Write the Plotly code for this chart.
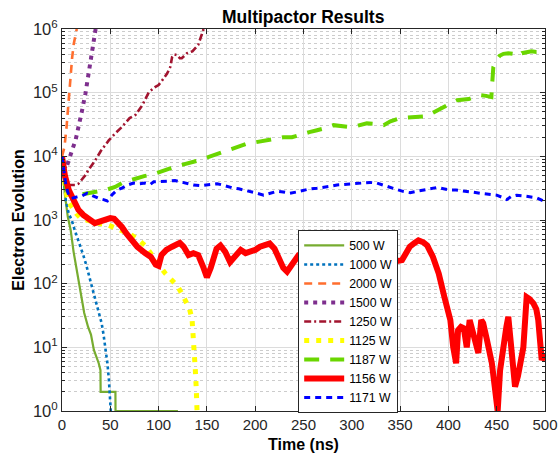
import numpy as np
import plotly.graph_objects as go

# ---------------- data (time in ns, electron counts as log10 exponents) ----------------
t_500 = [0, 3, 6, 9, 12, 16, 19, 23, 27, 30, 33, 36, 38, 39.8, 40, 55.3, 55.4, 120]
log_500 = [4.0, 3.4, 3.05, 2.84, 2.5, 2.15, 1.85, 1.54, 1.32, 1.2, 0.96, 0.85, 0.75, 0.64, 0.301, 0.301, 0, 0]

t_1000 = [0, 2, 4, 7, 10, 13, 16, 19, 22, 25, 28, 31, 34, 37, 39, 41, 43, 45, 47, 48.5, 49.5, 50.5]
log_1000 = [4.0, 3.6, 3.3, 3.1, 3.0, 2.85, 2.72, 2.6, 2.45, 2.3, 2.1, 1.95, 1.78, 1.6, 1.5, 1.38, 1.2, 1.0, 0.75, 0.5, 0.25, 0.0]

t_2000 = [0, 2.6, 4.7, 7, 8.8, 10.5, 12.2, 14, 15.3]
log_2000 = [4.0, 4.15, 4.46, 4.88, 5.3, 5.55, 5.77, 5.9, 6.0]

t_1500 = [0, 2, 4, 6, 8.8, 11, 14, 17.4, 20.9, 24.3, 27.7, 31, 33, 34.8]
log_1500 = [4.0, 3.85, 3.8, 3.88, 3.99, 4.12, 4.25, 4.46, 4.73, 4.99, 5.3, 5.62, 5.82, 6.0]

t_1250 = [0, 3, 6, 10, 14, 17, 20, 24, 28, 34.6, 40, 48.4, 55, 62, 70, 76, 83, 90, 96.7,
          100, 104, 108.8, 112, 114, 116, 119, 122, 124, 129.5, 135, 141, 143, 146.6]
log_1250 = [4.0, 3.6, 3.55, 3.55, 3.55, 3.57, 3.62, 3.7, 3.8, 3.94, 4.08, 4.25, 4.36, 4.46, 4.6, 4.65, 4.8, 5.01, 5.09,
            5.12, 5.2, 5.3, 5.4, 5.56, 5.6, 5.59, 5.54, 5.54, 5.62, 5.65, 5.75, 5.85, 6.0]

t_1125 = [0, 3, 6, 10, 15, 20, 30, 40, 48, 55, 62, 70, 78, 86, 93, 100, 107, 114, 120, 125,
          129.5, 132, 134.6, 136, 137, 138, 139, 139.8]
log_1125 = [4.0, 3.55, 3.3, 3.2, 3.1, 3.02, 2.97, 2.94, 2.92, 2.88, 2.84, 2.78, 2.7, 2.6, 2.45, 2.3, 2.16, 2.05, 1.95, 1.82,
            1.7, 1.6, 1.45, 1.2, 0.95, 0.65, 0.35, 0.0]

t_1187 = [0, 2, 4, 8, 14, 20, 27.7, 35, 45, 55, 62, 70, 76, 85, 95, 103, 112, 120, 131, 140, 152, 160, 171, 180,
          191.5, 200, 210, 220, 229, 238, 248, 256, 264, 272, 281, 290, 298, 306, 315.6, 324, 333, 340, 350, 357,
          364, 370, 378, 386, 395, 402, 409, 415, 421, 427, 433, 439, 444.5, 445, 446.5, 450, 453, 457, 462, 467,
          472, 476, 481, 486, 491, 496, 500]
log_1187 = [4.0, 3.75, 3.5, 3.42, 3.38, 3.4, 3.42, 3.44, 3.47, 3.52, 3.58, 3.62, 3.65, 3.69, 3.72, 3.77, 3.81, 3.85,
            3.89, 3.93, 3.99, 4.03, 4.09, 4.13, 4.2, 4.22, 4.25, 4.27, 4.3, 4.3, 4.35, 4.38, 4.41, 4.44, 4.49, 4.47,
            4.46, 4.48, 4.52, 4.51, 4.49, 4.55, 4.6, 4.61, 4.62, 4.62, 4.63, 4.7, 4.78, 4.83, 4.88, 4.89, 4.9, 4.93,
            4.96, 4.95, 4.93, 5.07, 5.4, 5.52, 5.58, 5.61, 5.62, 5.61, 5.57, 5.62, 5.64, 5.65, 5.64, 5.64, 5.61]

t_1156 = [0, 3, 7, 12, 17, 22, 28, 34, 38, 42, 45, 50, 54, 58, 62, 67, 72, 78, 86, 92, 97, 100, 103, 108, 114,
          118, 122, 126, 131, 136, 141, 146, 150, 154, 157, 160, 164, 169, 174, 180, 185, 190, 195, 200, 205,
          210, 215, 220, 224, 229, 233, 237, 240, 245, 255, 265, 275, 285, 295, 305, 315, 325, 335, 345, 352,
          356, 360, 365, 369, 374, 378, 384, 390, 396, 402, 405, 408, 410, 413, 416, 419, 422, 425, 428, 431,
          434, 436, 440, 445, 448, 451, 453.5, 457, 460, 462, 465.5, 469, 472, 474, 477.6, 481, 484, 488, 491,
          493, 496.6, 500]
log_1156 = [4.0, 3.7, 3.47, 3.3, 3.16, 3.08, 3.0, 2.95, 2.97, 2.99, 3.0, 3.03, 3.02, 2.97, 2.89, 2.78, 2.68, 2.58,
            2.48, 2.42, 2.3, 2.28, 2.45, 2.53, 2.58, 2.6, 2.64, 2.58, 2.45, 2.48, 2.45, 2.27, 2.1, 2.25, 2.42,
            2.55, 2.6, 2.5, 2.34, 2.45, 2.53, 2.48, 2.5, 2.53, 2.58, 2.6, 2.63, 2.55, 2.4, 2.25, 2.19, 2.28, 2.37,
            2.45, 2.5, 2.55, 2.5, 2.45, 2.5, 2.55, 2.5, 2.45, 2.4, 2.35, 2.37, 2.5, 2.58, 2.64, 2.68, 2.65, 2.6,
            2.42, 2.16, 1.78, 1.43, 1.0, 0.75, 1.27, 1.32, 1.3, 1.0, 1.43, 1.25, 1.07, 0.91, 1.43, 1.38, 1.11,
            0.75, 0.38, 0.0, 0.64, 1.11, 1.32, 1.48, 1.0, 0.38, 0.55, 0.7, 1.0, 1.79, 1.76, 1.69, 1.6, 1.43, 0.8,
            0.91]

t_1171 = [0, 2, 4, 7, 10, 15, 21, 26, 32, 38, 43, 47, 52, 57, 62, 68, 74, 80, 86, 91.5, 95, 100, 105, 110, 117,
          123, 129.5, 136, 143, 150, 155, 160.5, 166, 172, 177.6, 183, 189, 195, 202, 208.7, 215, 222.5, 229, 236,
          243, 250, 257, 264, 271, 278, 284.6, 293, 301.8, 310, 319, 326, 332.8, 340, 346.6, 353, 360.4, 367, 374,
          381, 388, 395, 401.8, 408, 415.5, 424, 432.8, 441, 450, 455, 460.4, 465, 470.7, 477, 484.5, 491, 498, 500]
log_1171 = [4.0, 3.8, 3.55, 3.38, 3.34, 3.36, 3.38, 3.42, 3.38, 3.34, 3.32, 3.3, 3.4, 3.47, 3.5, 3.55, 3.58, 3.57,
            3.58, 3.56, 3.6, 3.6, 3.6, 3.61, 3.62, 3.6, 3.57, 3.55, 3.54, 3.55, 3.56, 3.57, 3.55, 3.52, 3.5, 3.49,
            3.47, 3.45, 3.42, 3.39, 3.42, 3.45, 3.44, 3.42, 3.44, 3.47, 3.49, 3.5, 3.51, 3.53, 3.55, 3.56, 3.56,
            3.57, 3.59, 3.58, 3.55, 3.52, 3.48, 3.45, 3.43, 3.45, 3.47, 3.5, 3.51, 3.49, 3.47, 3.47, 3.46, 3.44,
            3.42, 3.41, 3.39, 3.36, 3.32, 3.37, 3.39, 3.38, 3.36, 3.35, 3.3, 3.3]

y_tick_exponents = [0, 1, 2, 3, 4, 5, 6]
x_tick_values = [0, 50, 100, 150, 200, 250, 300, 350, 400, 450, 500]

# ---------------- styling ----------------
series = [
    ("500 W", t_500, log_500, dict(color="#77AC30", width=2.2, dash="solid")),
    ("1000 W", t_1000, log_1000, dict(color="#0072BD", width=2.6, dash="dot")),
    ("2000 W", t_2000, log_2000, dict(color="#FF6E2E", width=2.6, dash="8px,6px")),
    ("1500 W", t_1500, log_1500, dict(color="#7E2F8E", width=4, dash="4px,5px")),
    ("1250 W", t_1250, log_1250, dict(color="#A2142F", width=2.6, dash="7px,3px,2px,3px")),
    ("1125 W", t_1125, log_1125, dict(color="#FFFF00", width=5, dash="5px,7px")),
    ("1187 W", t_1187, log_1187, dict(color="#6AD600", width=4, dash="15px,11px")),
    ("1156 W", t_1156, log_1156, dict(color="#FF0000", width=6, dash="solid")),
    ("1171 W", t_1171, log_1171, dict(color="#0000FF", width=3, dash="6px,5px")),
]

fig = go.Figure()
for name, tx, ly, line in series:
    fig.add_trace(go.Scatter(
        x=tx, y=np.power(10.0, np.array(ly)), mode="lines", name=name,
        line=line, hoverinfo="skip",
    ))

font_family = "Liberation Sans, Arial, Helvetica, sans-serif"
axis_color = "#262626"

fig.update_layout(
    width=558, height=458,
    margin=dict(l=61.5, r=13, t=29, b=47, autoexpand=False),
    paper_bgcolor="white", plot_bgcolor="white",
    font=dict(family=font_family, size=15, color=axis_color),
    title=dict(text="<b>Multipactor Results</b>", x=(61.5 + 545) / 2 / 558, xanchor="center",
               y=1 - 17 / 458, yanchor="middle", font=dict(size=17.5, color="black")),
    showlegend=True,
    legend=dict(x=0.489, y=0.474, xanchor="left", yanchor="top",
                bgcolor="white", bordercolor=axis_color, borderwidth=1,
                font=dict(size=12.3, color="black"), tracegroupgap=0,
                itemwidth=40),
)

fig.update_xaxes(
    range=[0, 500], tickmode="array", tickvals=x_tick_values,
    ticks="inside", ticklen=5, tickcolor=axis_color,
    showline=True, linecolor=axis_color, linewidth=1, mirror="allticks",
    showgrid=True, gridcolor="#DCDCDC", gridwidth=1, zeroline=False,
    automargin=False,
    title=dict(text="<b>Time (ns)</b>", font=dict(size=16, color="black"), standoff=6),
    tickfont=dict(size=15, color=axis_color),
)

fig.update_yaxes(
    type="log", range=[0, 6],
    tickmode="array", tickvals=[10 ** e for e in y_tick_exponents],
    ticktext=["10<sup>%d</sup>" % e for e in y_tick_exponents],
    ticks="inside", ticklen=5, tickcolor=axis_color,
    showline=True, linecolor=axis_color, linewidth=1, mirror="allticks",
    showgrid=True, gridcolor="#DCDCDC", gridwidth=1, zeroline=False,
    automargin=False,
    minor=dict(tickmode="array",
               tickvals=[m * 10 ** e for e in y_tick_exponents[:-1] for m in range(2, 10)],
               ticks="inside", ticklen=3, tickcolor=axis_color,
               showgrid=True, gridcolor="#CCCCCC", griddash="dot", gridwidth=1),
    title=dict(text="<b>Electron Evolution</b>", font=dict(size=16, color="black"), standoff=4),
    tickfont=dict(size=16.5, color=axis_color),
)

fig.write_html("out.html")
